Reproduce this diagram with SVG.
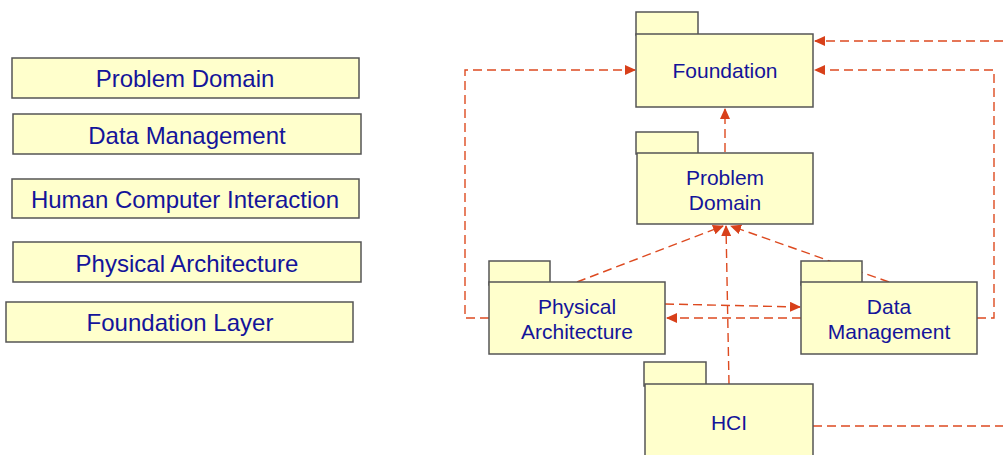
<svg xmlns="http://www.w3.org/2000/svg" width="1003" height="455" viewBox="0 0 1003 455">
<style>
.box{fill:#ffffcc;stroke:#555;stroke-width:1.5}
.t{font-family:"Liberation Sans",Arial,sans-serif;font-size:24px;fill:#14149a;text-anchor:middle}
.pt{font-family:"Liberation Sans",Arial,sans-serif;font-size:21px;fill:#14149a;text-anchor:middle}
.c{fill:none;stroke:#dd4a20;stroke-width:1.4;stroke-dasharray:9,5}
</style>
<defs>
<marker id="ah" markerWidth="11" markerHeight="10" refX="10" refY="5" orient="auto" markerUnits="userSpaceOnUse">
<path d="M0,0 L11,5 L0,10 Z" fill="#d8401a"/>
</marker>
</defs>
<rect width="1003" height="455" fill="#fff"/>
<g id="legend-problem-domain"><rect class="box" x="12" y="58" width="347" height="40"/><text class="t" x="185" y="87">Problem Domain</text></g>
<g id="legend-data-management"><rect class="box" x="13" y="114" width="348" height="40"/><text class="t" x="187" y="144">Data Management</text></g>
<g id="legend-hci"><rect class="box" x="12" y="179" width="347" height="39"/><text class="t" x="185" y="208">Human Computer Interaction</text></g>
<g id="legend-physical-architecture"><rect class="box" x="13" y="242" width="348" height="40"/><text class="t" x="187" y="272">Physical Architecture</text></g>
<g id="legend-foundation-layer"><rect class="box" x="6" y="302" width="347" height="40"/><text class="t" x="180" y="331">Foundation Layer</text></g>

<g id="connectors">
<path class="c" d="M1003,41 L815,41" marker-end="url(#ah)"/>
<path class="c" d="M977,318 L994,318 L994,70 L815,70" marker-end="url(#ah)"/>
<path class="c" d="M489,318 L465,318 L465,70 L635,70" marker-end="url(#ah)"/>
<path class="c" d="M725,152 L725,109" marker-end="url(#ah)"/>
<path class="c" d="M577,282 L723,226" marker-end="url(#ah)"/>
<path class="c" d="M889,282 L731,226" marker-end="url(#ah)"/>
<path class="c" d="M729,384 L726,226" marker-end="url(#ah)"/>
<path class="c" d="M665,304 L800,307" marker-end="url(#ah)"/>
<path class="c" d="M801,318 L667,318" marker-end="url(#ah)"/>
<path class="c" d="M813,426 L1003,426"/>
</g>

<g id="foundation"><rect class="box" x="636" y="12" width="62" height="23"/><rect class="box" x="636" y="34" width="177" height="73"/><text class="pt" x="725" y="78">Foundation</text></g>
<g id="problem-domain"><rect class="box" x="636" y="132" width="62" height="22"/><rect class="box" x="637" y="153" width="176" height="71"/><text class="pt" x="725" y="185">Problem</text><text class="pt" x="725" y="210">Domain</text></g>
<g id="physical-architecture"><rect class="box" x="489" y="261" width="61" height="24"/><rect class="box" x="489" y="282" width="176" height="72"/><text class="pt" x="577" y="314">Physical</text><text class="pt" x="577" y="339">Architecture</text></g>
<g id="data-management"><rect class="box" x="801" y="261" width="61" height="24"/><rect class="box" x="801" y="282" width="176" height="72"/><text class="pt" x="889" y="314">Data</text><text class="pt" x="889" y="339">Management</text></g>
<g id="hci"><rect class="box" x="644" y="362" width="62" height="24"/><rect class="box" x="645" y="384" width="168" height="80"/><text class="pt" x="729" y="430">HCI</text></g>
</svg>
